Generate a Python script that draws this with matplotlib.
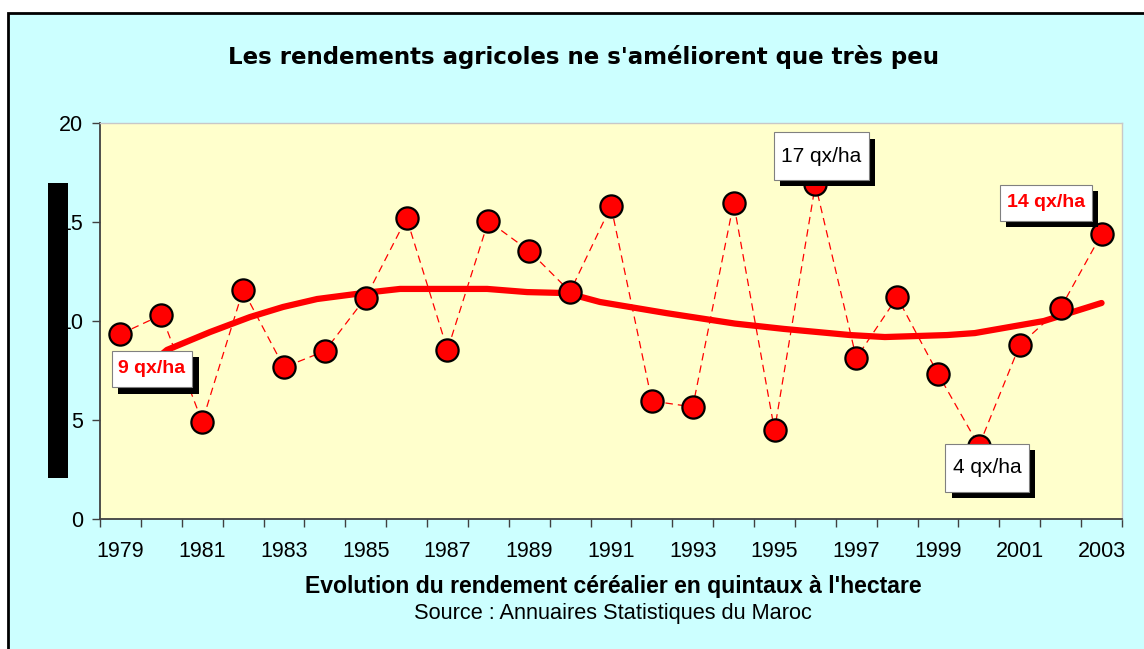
# Rendement céréalier au Maroc, 1979-2003
import matplotlib
matplotlib.use('Agg')
import matplotlib.pyplot as plt
import matplotlib.patheffects as pe
from matplotlib.patches import Rectangle

plt.rcParams['font.family'] = ['Liberation Sans', 'DejaVu Sans']

# DONNÉES

annees = list(range(1979, 2004))
rendements = [9.34, 10.3, 4.91, 11.57, 7.66, 8.48, 11.18, 15.2, 8.54, 15.05,
              13.54, 11.48, 15.8, 5.96, 5.66, 15.96, 4.49, 16.9, 8.13, 11.2,
              7.33, 3.69, 8.79, 10.66, 14.39]

# courbe de tendance (position en années, valeur)
tendance_x = [1980.0, 1980.14, 1981.19, 1982.17, 1982.98, 1983.81, 1984.93,
              1985.84, 1987.97, 1988.95, 1989.92, 1990.73, 1992.35, 1994.03,
              1995.23, 1996.85, 1997.7, 1999.22, 1999.9, 2001.59, 2003.0]
tendance_y = [8.3, 8.54, 9.44, 10.2, 10.71, 11.11, 11.41, 11.62, 11.62, 11.46,
              11.41, 10.96, 10.4, 9.87, 9.6, 9.29, 9.19, 9.29, 9.39, 10.0, 10.91]

# étiquettes : texte, année, valeur du centre de la boîte, couleur, graisse, taille, hauteur relative
etiquettes = [("9 qx/ha", 1979.77, 7.58, 'red', 'bold', 14, 1.45),
              ("17 qx/ha", 1996.14, 18.33, 'black', 'normal', 15, 1.95),
              ("14 qx/ha", 2001.64, 15.96, 'red', 'bold', 14, 1.4),
              ("4 qx/ha", 2000.2, 2.58, 'black', 'normal', 15, 1.95)]

graduations_y = [0, 5, 10, 15, 20]


# FIGURE

fig = plt.figure(figsize=(11.44, 6.49), dpi=100, facecolor='white')

# cadre cyan avec bordure noire
fig.patches.append(Rectangle((8 / 1144, -0.05), 1.1, 1 - 13 / 649 + 0.05,
                             transform=fig.transFigure, facecolor='#CCFFFF',
                             edgecolor='black', linewidth=2, zorder=-10))

ax = fig.add_axes([100 / 1144, 1 - 519 / 649, 1022 / 1144, 396 / 649])
ax.set_facecolor('#FFFFCC')

x = [a - 1979 for a in annees]
tx = [a - 1979 for a in tendance_x]

# ligne pointillée, tendance, puis les points
ax.plot(x, rendements, color='red', linestyle=(0, (6, 4)), linewidth=0.9, zorder=2)
ax.plot(tx, tendance_y, color='red', linewidth=4.5, solid_capstyle='round', zorder=3)
ax.plot(x, rendements, linestyle='none', marker='o', markersize=16,
        markerfacecolor='red', markeredgecolor='black', markeredgewidth=1.6, zorder=4)

# boîtes d'étiquettes avec ombre
for texte, ex, ey, coul, poids, taille, aspect in etiquettes:
    t = ax.text(ex - 1979, ey, texte, ha='center', va='center', color=coul,
                fontweight=poids, fontsize=taille, zorder=6, clip_on=False,
                bbox=dict(boxstyle='square,pad=0.35', facecolor='white',
                          edgecolor='#808080', linewidth=0.8,
                          mutation_aspect=aspect))
    t.get_bbox_patch().set_path_effects([
        pe.SimplePatchShadow(offset=(4.5, -4.5), shadow_rgbFace='black', alpha=1),
        pe.Normal()])

# axes
ax.set_xlim(-0.5, len(annees) - 0.5)
ax.set_ylim(0, 20)
ax.set_yticks(graduations_y)
ax.set_yticklabels([str(v) for v in graduations_y])
ax.set_xticks(x[::2])
ax.set_xticklabels([str(a) for a in annees[::2]])
ax.set_xticks([i - 0.5 for i in range(len(annees) + 1)], minor=True)
ax.tick_params(axis='x', which='major', length=0, pad=16, labelsize=15.5)
ax.tick_params(axis='x', which='minor', length=6, width=1, color='#404040', direction='out')
ax.tick_params(axis='y', length=6, width=1, color='#404040', pad=6, labelsize=15.5)

for cote in ['left', 'bottom']:
    ax.spines[cote].set_color('#404040')
    ax.spines[cote].set_linewidth(1.3)
for cote in ['top', 'right']:
    ax.spines[cote].set_color('#C8C8C8')
    ax.spines[cote].set_linewidth(1)

# textes
fig.text(583 / 1144, 1 - 57 / 649, "Les rendements agricoles ne s'améliorent que très peu",
         ha='center', va='center', fontsize=16.5, fontweight='bold', family='DejaVu Sans')
fig.text(613 / 1144, 1 - 586 / 649, "Evolution du rendement céréalier en quintaux à l'hectare",
         ha='center', va='center', fontsize=16.6, fontweight='bold')
fig.text(613 / 1144, 1 - 614 / 649, "Source : Annuaires Statistiques du Maroc",
         ha='center', va='center', fontsize=15.7)

# barre noire verticale à gauche
fig.patches.append(Rectangle((48 / 1144, 1 - 478 / 649), 20 / 1144, 295 / 649,
                             transform=fig.transFigure, facecolor='black',
                             edgecolor='none', zorder=10))

fig.savefig('out.png', dpi=100, facecolor=fig.get_facecolor())
